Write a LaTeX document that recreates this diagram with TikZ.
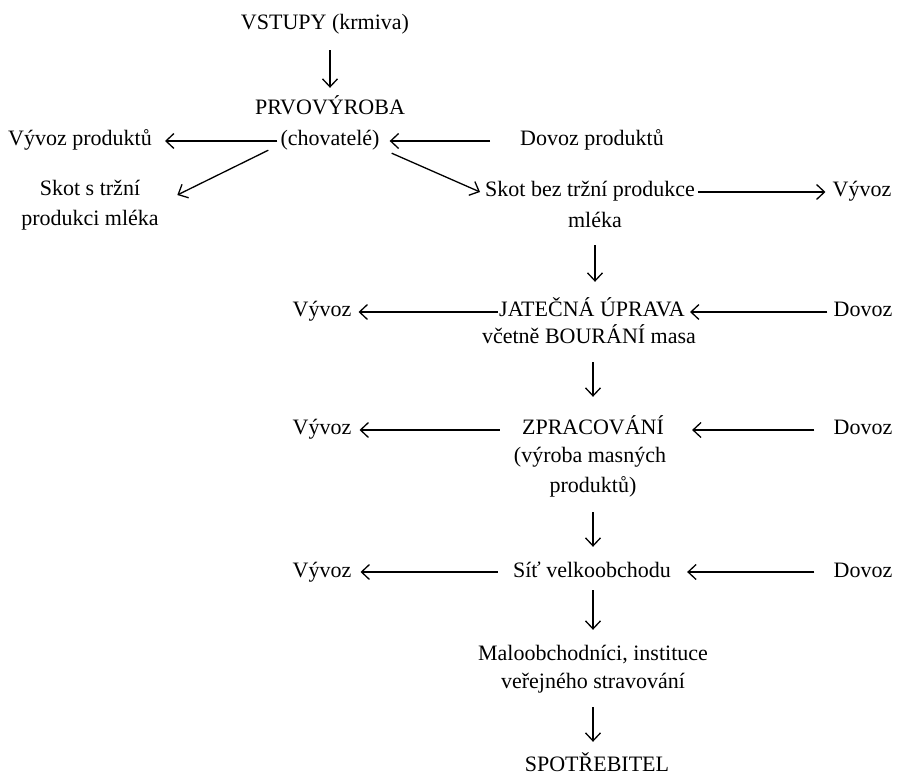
\documentclass[tikz,border=0pt]{standalone}
\usepackage{fontspec}
\setmainfont{Liberation Serif}
\usetikzlibrary{arrows.meta,calc}
\begin{document}
\begin{tikzpicture}[x=1pt,y=-1pt,
  lbl/.style={anchor=base,inner sep=0pt,text height=15pt,text depth=5pt,font=\fontsize{22}{26}\selectfont},
  arr/.style={line width=1.3pt,-{Straight Barb[length=8pt,width=15pt,line width=1.3pt]}},
  gap/.style={shorten <=#1},
  tip/.style={shorten >=#1}]
\useasboundingbox (0,0) rectangle (897,775);
% nodes (positions are baselines)
\node[lbl] (vst) at (325,30) {VSTUPY (krmiva)};
\node[lbl] (prv) at (330,115) {PRVOVÝROBA};
\node[lbl] (chov) at (330,146) {(chovatelé)};
\node[lbl] (vyvp) at (80,146) {Vývoz produktů};
\node[lbl] (dovp) at (592,146) {Dovoz produktů};
\node[lbl] (skots1) at (90,196) {Skot s tržní};
\node[lbl] (skots2) at (90,226) {produkci mléka};
\node[lbl] (skotb1) at (590,197) {Skot bez tržní produkce};
\node[lbl] (skotb2) at (595,228) {mléka};
\node[lbl] (vyv0) at (862,197) {Vývoz};
\node[lbl] (jat1) at (592,317) {JATEČNÁ ÚPRAVA};
\node[lbl] (jat2) at (589,344) {včetně BOURÁNÍ masa};
\node[lbl] (vyv1) at (322,317) {Vývoz};
\node[lbl] (dov1) at (863,317) {Dovoz};
\node[lbl] (zpr1) at (593,435) {ZPRACOVÁNÍ};
\node[lbl] (zpr2) at (590,462) {(výroba masných};
\node[lbl] (zpr3) at (593,492) {produktů)};
\node[lbl] (vyv2) at (322,435) {Vývoz};
\node[lbl] (dov2) at (863,435) {Dovoz};
\node[lbl] (sit) at (592,577) {Síť velkoobchodu};
\node[lbl] (vyv3) at (322,577) {Vývoz};
\node[lbl] (dov3) at (863,577) {Dovoz};
\node[lbl] (mal1) at (593,660) {Maloobchodníci, instituce};
\node[lbl] (mal2) at (593,688) {veřejného stravování};
\node[lbl] (spo) at (597,771) {SPOTŘEBITEL};
% vertical arrows
\draw[arr,gap=15,tip=12] (vst.south -| prv.north) -- (prv.north);
\draw[arr,gap=12,tip=20] (skotb2.south) -- (jat1.north -| skotb2.south);
\draw[arr,gap=13,tip=23] (jat2.south -| zpr1.north) -- (zpr1.north);
\draw[arr,gap=15,tip=15] (zpr3.south) -- (sit.north -| zpr3.south);
\draw[arr,gap=8,tip=15] (sit.south -| mal1.north) -- (mal1.north);
\draw[arr,gap=14,tip=14] (mal2.south) -- (spo.north -| mal2.south);
% top horizontal / diagonal arrows
\draw[arr,gap=3,tip=13] (chov.west) -- (vyvp.east);
\draw[arr,gap=30,tip=10] (dovp.west) -- (chov.east);
\draw[arr] ([shift={(-12,-1)}]chov.south west) -- ([shift={(37,4)}]skots1.east);
\draw[arr] ([shift={(12,2)}]chov.south east) -- ([shift={(-5,0)}]skotb1.west);
\draw[arr,gap=3,tip=7] (skotb1.east) -- (vyv0.west);
% horizontal arrows of lower rows
\draw[arr,gap=1,tip=7] (jat1.west) -- (vyv1.east);
\draw[arr,gap=6,tip=5] (dov1.west) -- (jat1.east);
\draw[arr,gap=22,tip=8] (zpr1.west) -- (vyv2.east);
\draw[arr,gap=19,tip=28] (dov2.west) -- (zpr1.east);
\draw[arr,gap=15,tip=9] (sit.west) -- (vyv3.east);
\draw[arr,gap=19,tip=16] (dov3.west) -- (sit.east);
\end{tikzpicture}
\end{document}
